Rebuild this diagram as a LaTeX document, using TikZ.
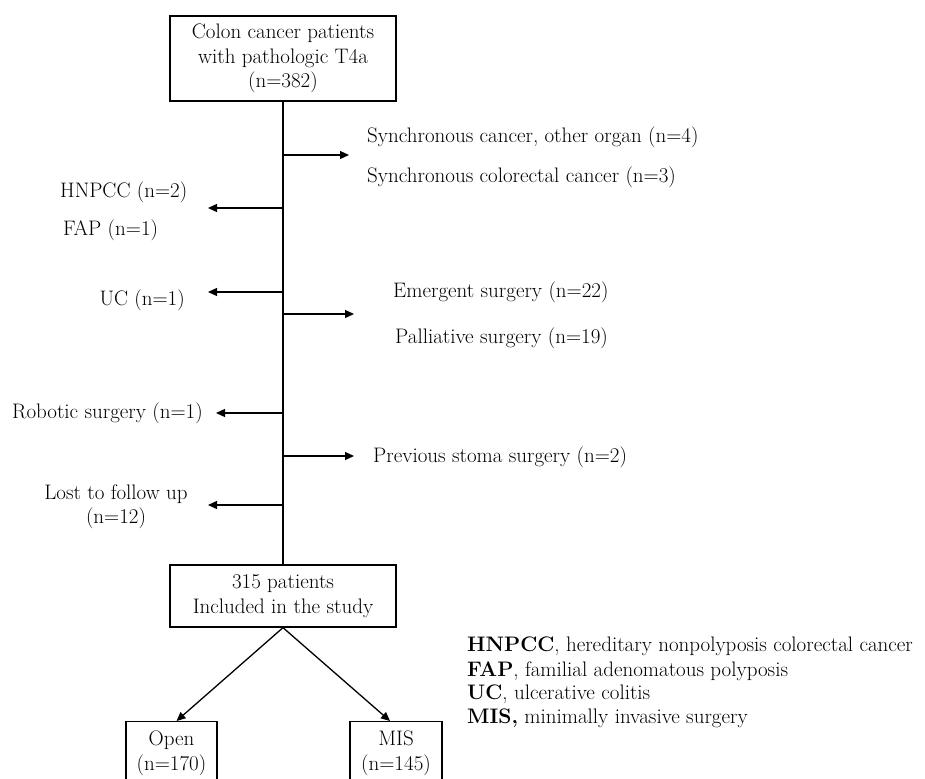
\documentclass[tikz,border=0pt]{standalone}
\usetikzlibrary{arrows.meta,calc}
\begin{document}
\begin{tikzpicture}[x=1pt,y=-1pt,
  font=\fontsize{21}{24.5}\selectfont,
  box/.style={draw,line width=1.3pt,inner sep=0pt,align=center},
  lbl/.style={inner sep=0pt,align=center},
  conn/.style={line width=1.3pt},
  arr/.style={line width=1.3pt,-{Triangle[length=9pt,width=8pt]}}]
\useasboundingbox (0,0) rectangle (925,778);
\clip (0,0) rectangle (925,778);
% main boxes
\node[box,minimum width=226pt,minimum height=85pt] (top) at (283,58.5)
  {Colon cancer patients\\with pathologic T4a\\(n=382)};
\node[box,minimum width=226pt,minimum height=62pt] (incl) at (283,596)
  {315 patients\\Included in the study};
\node[box,anchor=north,minimum width=91pt,minimum height=63pt] (open) at (171.5,721)
  {Open\\(n=170)};
\node[box,anchor=north,minimum width=92pt,minimum height=63pt] (mis) at (396,721)
  {MIS\\(n=145)};
% spine
\draw[conn] (top.south) -- (incl.north);
% junctions on the spine
\coordinate (j1) at (283,155);
\coordinate (j2) at (283,208);
\coordinate (j3) at (283,292);
\coordinate (j4) at (283,314);
\coordinate (j5) at (283,413);
\coordinate (j6) at (283,456);
\coordinate (j7) at (283,505);
% arrow ends
\coordinate (e1) at (349,155);
\coordinate (e2) at (208,208);
\coordinate (e3) at (208,292);
\coordinate (e4) at (354,314);
\coordinate (e5) at (216,413);
\coordinate (e6) at (354,456);
\coordinate (e7) at (208,505);
\draw[arr] (j1) -- (e1);
\draw[arr] (j2) -- (e2);
\draw[arr] (j3) -- (e3);
\draw[arr] (j4) -- (e4);
\draw[arr] (j5) -- (e5);
\draw[arr] (j6) -- (e6);
\draw[arr] (j7) -- (e7);
% labels right
\node[lbl,anchor=west] (s1) at (367,137) {Synchronous cancer, other organ (n=4)};
\node[lbl,anchor=west] (s2) at (367,177) {Synchronous colorectal cancer (n=3)};
\node[lbl,anchor=west] (em) at (393,292) {Emergent surgery (n=22)};
\node[lbl,anchor=west] (pa) at (395,338) {Palliative surgery (n=19)};
\node[lbl,anchor=west] (ps) at (373,457) {Previous stoma surgery (n=2)};
% labels left
\node[lbl,anchor=west] (hn) at (60,192) {HNPCC (n=2)};
\node[lbl,anchor=west] (fap) at (63,230) {FAP (n=1)};
\node[lbl,anchor=east] (uc) at (185,300) {UC (n=1)};
\node[lbl,anchor=east] (rob) at (203,413) {Robotic surgery (n=1)};
\node[lbl] (lost) at (116,506.5) {Lost to follow up\\(n=12)};
% split
\draw[arr] (incl.south) -- ($(open.north)+(5,0)$);
\draw[arr] (incl.south) -- ($(mis.north)+(-6,0)$);
% legend
\node[lbl,anchor=west] (l1) at (467,646) {\textbf{HNPCC}, hereditary nonpolyposis colorectal cancer};
\node[lbl,anchor=west] (l2) at (467,671) {\textbf{FAP}, familial adenomatous polyposis};
\node[lbl,anchor=west] (l3) at (467,694) {\textbf{UC}, ulcerative colitis};
\node[lbl,anchor=west] (l4) at (467,718) {\textbf{MIS,} minimally invasive surgery};
\end{tikzpicture}
\end{document}
